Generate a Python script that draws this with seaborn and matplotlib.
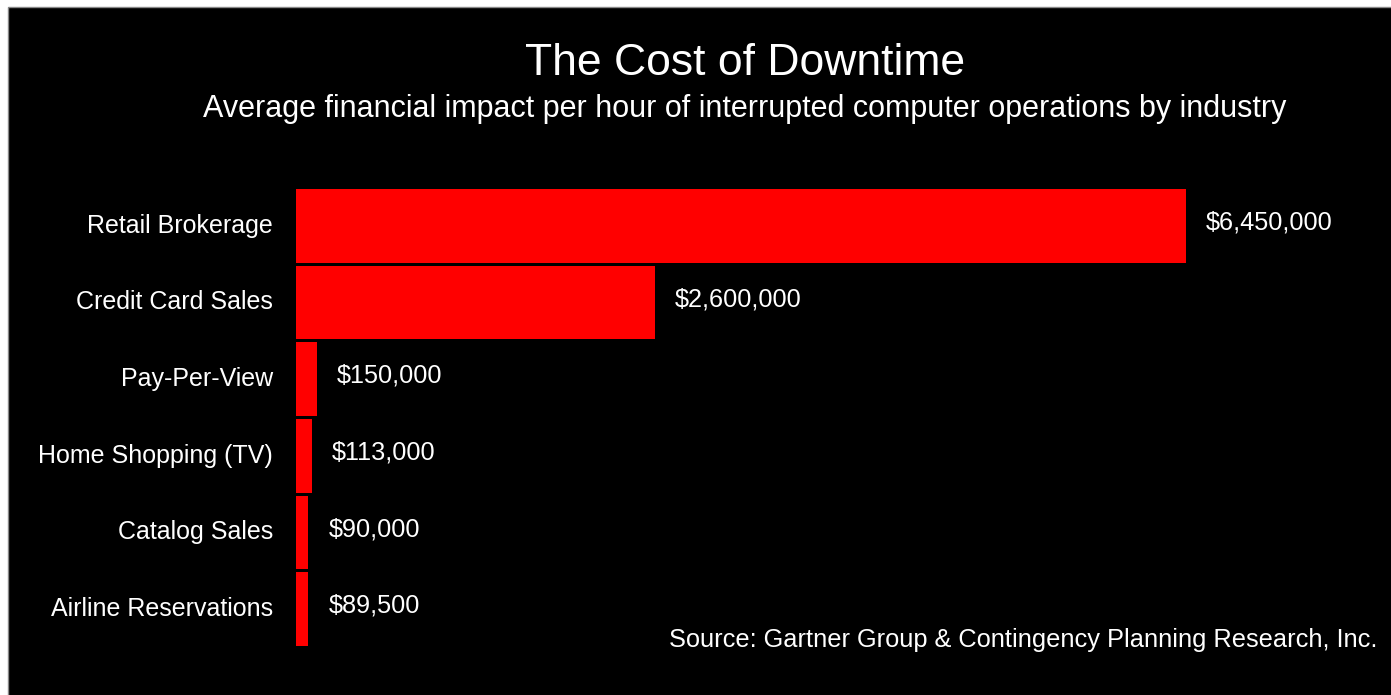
import matplotlib
matplotlib.use("Agg")
import matplotlib.pyplot as plt
from matplotlib.patches import Rectangle
from matplotlib.transforms import ScaledTranslation
import seaborn as sns
import pandas as pd

# Downtime cost per hour, by industry (USD)
industries = [
    "Retail Brokerage",
    "Credit Card Sales",
    "Pay-Per-View",
    "Home Shopping (TV)",
    "Catalog Sales",
    "Airline Reservations",
]
cost_per_hour = [6450000, 2600000, 150000, 113000, 90000, 89500]

title = "The Cost of Downtime"
subtitle = "Average financial impact per hour of interrupted computer operations by industry"
source = "Source: Gartner Group & Contingency Planning Research, Inc."

df = pd.DataFrame({"industry": industries, "cost": cost_per_hour})

sns.set_theme(style="white")
plt.rcParams["font.family"] = ["Liberation Sans", "DejaVu Sans"]

W, H = 1391, 695
fig = plt.figure(figsize=(W / 100, H / 100), dpi=100, facecolor="white")

# black slide panel; its grey frame shows only along the top and left edges
fig.patches.append(Rectangle((8 / W, -0.1), 1.2, 1.1 - 7 / H, transform=fig.transFigure,
                             facecolor="black", edgecolor="#888888", linewidth=1.0,
                             zorder=-10))

ax = fig.add_axes([296 / W, 1 - 647.6 / H, 1084 / W, 460 / H])
ax.set_facecolor("none")

sns.barplot(data=df, x="cost", y="industry", orient="h", color="#ff0000",
            saturation=1, width=0.96, edgecolor="none", linewidth=0, ax=ax)

max_cost = max(cost_per_hour)
ax.set_xlim(0, max_cost * 1084 / 890)
ax.set_ylim(len(industries) - 0.5, -0.5)

value_labels = ax.bar_label(ax.containers[0],
                            labels=[f"${v:,}" for v in cost_per_hour],
                            padding=14.5, fontsize=18.2, color="white")
for t in value_labels:
    t.xyann = (14.5, 2.5)

ax.set_xlabel("")
ax.set_ylabel("")
ax.set_xticks([])
ax.tick_params(axis="y", length=0, pad=16.5, labelsize=18, labelcolor="white")
lift = ScaledTranslation(0, 2 / 72, fig.dpi_scale_trans)
for lab in ax.get_yticklabels():
    lab.set_transform(lab.get_transform() + lift)
for s in ax.spines.values():
    s.set_visible(False)

fig.text(745 / W, 1 - 75 / H, title, ha="center", va="baseline",
         fontsize=32, color="white")
fig.text(745 / W, 1 - 117 / H, subtitle, ha="center", va="baseline",
         fontsize=22, color="white")
fig.text(1377 / W, 1 - 647 / H, source, ha="right", va="baseline",
         fontsize=18.3, color="white")

fig.savefig("out.png", dpi=100, facecolor=fig.get_facecolor())
